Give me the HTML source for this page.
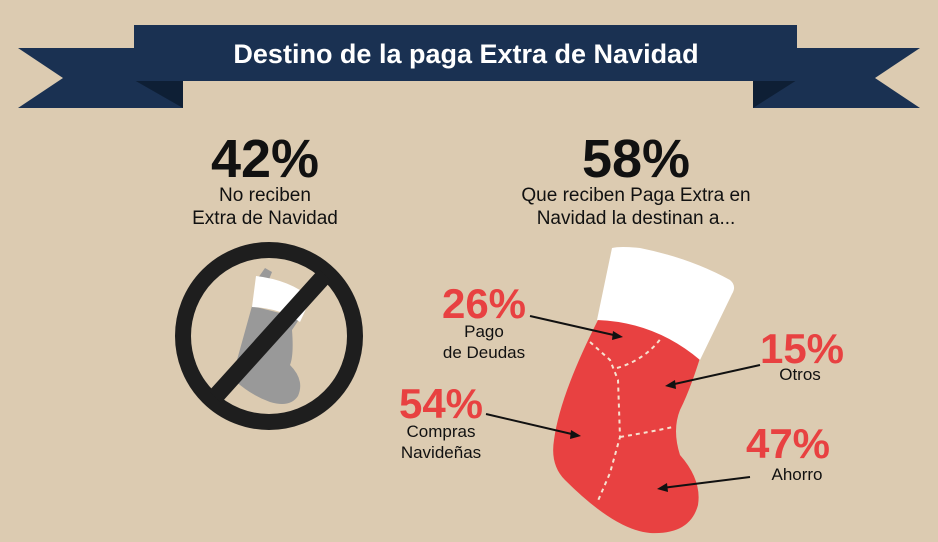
<!DOCTYPE html>
<html><head><meta charset="utf-8"><style>
html,body{margin:0;padding:0;background:#dccbb1;}
svg{display:block;font-family:"Liberation Sans",sans-serif;}
</style></head><body>
<svg width="938" height="542" viewBox="0 0 938 542">
<rect width="938" height="542" fill="#dccbb1"/>
<g>
 <polygon points="18,48 183,48 183,108 18,108 63,78" fill="#1a3152"/>
 <polygon points="920,48 753,48 753,108 920,108 875,78" fill="#1a3152"/>
 <polygon points="134,80 183,80 183,108" fill="#0e1f35"/>
 <polygon points="797,80 753,80 753,108" fill="#0e1f35"/>
 <rect x="134" y="25" width="663" height="56" fill="#1a3152"/>
 <text x="466" y="63" text-anchor="middle" fill="#fff" font-size="27" font-weight="bold">Destino de la paga Extra de Navidad</text>
</g>
<g>
 <text x="265" y="177" text-anchor="middle" font-size="54" font-weight="bold" fill="#111">42%</text>
 <text x="265" y="201" text-anchor="middle" font-size="19" fill="#111">No reciben</text>
 <text x="265" y="224" text-anchor="middle" font-size="19" fill="#111">Extra de Navidad</text>
 <g>
  <path d="M258,278 L265,268 L272,272 L268,282 Z" fill="#999"/>
  <path d="M252,306 L300,318 L292,330 Q294,355 290,365 Q305,380 298,396 Q290,408 270,402 Q250,395 232,378 Z" fill="#999"/>
  <path d="M256,276 Q290,280 311,298 L300,322 Q280,308 252,307 Z" fill="#fff"/>
  <circle cx="269" cy="336" r="86" fill="none" stroke="#1e1e1e" stroke-width="16"/>
  <line x1="325" y1="275" x2="215" y2="397" stroke="#1e1e1e" stroke-width="17"/>
 </g>
</g>
<g>
 <text x="636" y="177" text-anchor="middle" font-size="54" font-weight="bold" fill="#111">58%</text>
 <text x="636" y="201" text-anchor="middle" font-size="19" fill="#111">Que reciben Paga Extra en</text>
 <text x="636" y="224" text-anchor="middle" font-size="19" fill="#111">Navidad la destinan a...</text>
 <g>
  <path d="M598,320 Q650,318 700,358 Q690,390 680,410 Q672,430 680,455 Q702,480 698,505 Q690,535 650,533 Q615,530 565,480 Q550,465 554,440 Q560,395 598,320 Z" fill="#e84141"/>
  <path d="M612,248 Q620,246 640,248 Q690,258 730,280 Q737,286 732,294 L700,360 Q655,322 597,320 Z" fill="#fff"/>
  <g fill="none" stroke="#f6e2d0" stroke-width="2" stroke-dasharray="4,4">
   <path d="M590,342 L610,360 L618,380 L620,437 L610,473 L597,503"/>
   <path d="M617,368 Q645,360 662,337"/>
   <path d="M620,437 Q650,432 673,427"/>
  </g>
 </g>
 <g stroke="#111" stroke-width="2" fill="#111">
  <line x1="530" y1="316" x2="618" y2="336"/><polygon points="623,337 613,331 612,340" stroke="none"/>
  <line x1="760" y1="365" x2="670" y2="385"/><polygon points="665,386 675,380 676,389" stroke="none"/>
  <line x1="486" y1="414" x2="576" y2="435"/><polygon points="581,436 571,430 570,439" stroke="none"/>
  <line x1="750" y1="477" x2="662" y2="488"/><polygon points="657,489 667,483 668,492" stroke="none"/>
 </g>
 <g font-weight="bold" fill="#e84141" font-size="42">
  <text x="484" y="318" text-anchor="middle">26%</text>
  <text x="802" y="363" text-anchor="middle">15%</text>
  <text x="441" y="418" text-anchor="middle">54%</text>
  <text x="788" y="458" text-anchor="middle">47%</text>
 </g>
 <g fill="#111" font-size="17" text-anchor="middle">
  <text x="484" y="337">Pago</text>
  <text x="484" y="358">de Deudas</text>
  <text x="800" y="380">Otros</text>
  <text x="441" y="437">Compras</text>
  <text x="441" y="458">Navideñas</text>
  <text x="797" y="480">Ahorro</text>
 </g>
</g>
</svg>
</body></html>
